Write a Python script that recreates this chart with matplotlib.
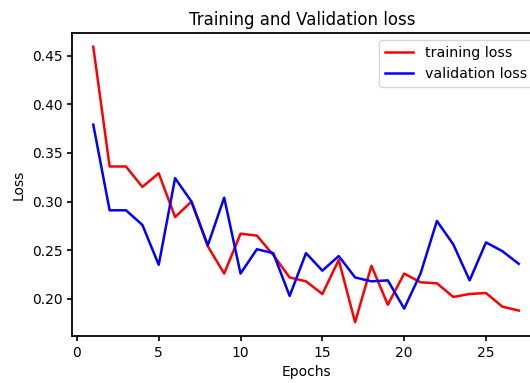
import matplotlib
matplotlib.use("Agg")
import matplotlib.pyplot as plt

epochs = list(range(1, 28))
training_loss = [0.459, 0.336, 0.336, 0.315, 0.329, 0.284, 0.300, 0.254, 0.226, 0.267,
                 0.265, 0.245, 0.222, 0.218, 0.205, 0.240, 0.176, 0.234, 0.194, 0.226,
                 0.217, 0.216, 0.202, 0.205, 0.206, 0.192, 0.188]
validation_loss = [0.379, 0.291, 0.291, 0.276, 0.235, 0.324, 0.300, 0.255, 0.304, 0.226,
                   0.251, 0.247, 0.203, 0.247, 0.229, 0.244, 0.222, 0.218, 0.219, 0.190,
                   0.226, 0.280, 0.256, 0.219, 0.258, 0.249, 0.236]

fig = plt.figure(figsize=(5.3, 3.83), dpi=100)
W, H = 530, 383
left, right, top, bottom = 72, 540, 33, 336
ax = fig.add_axes([left / W, (H - bottom) / H, (right - left) / W, (bottom - top) / H])
ax.plot(epochs, training_loss, color="red", lw=1.8, label="training loss")
ax.plot(epochs, validation_loss, color="blue", lw=1.8, label="validation loss")
ax.set_title("Training and Validation loss", fontsize=12, x=0.492)
ax.set_xlabel("Epochs")
ax.set_ylabel("Loss")
for s in ax.spines.values():
    s.set_linewidth(1.3)
ax.tick_params(width=1.2)
ax.legend(loc="upper right", fontsize=10.3)
fig.savefig("out.png", dpi=100)
